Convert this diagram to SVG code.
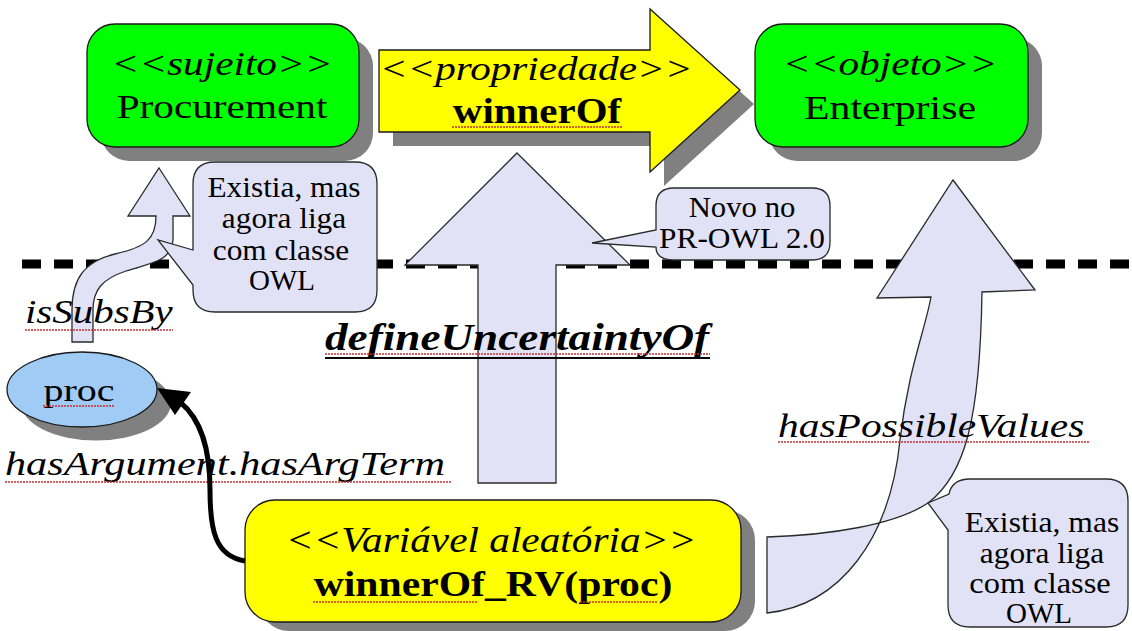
<svg xmlns="http://www.w3.org/2000/svg" width="1132" height="631" viewBox="0 0 1132 631" font-family="Liberation Serif">
<rect width="1132" height="631" fill="#FFFFFF"/>

<line x1="22" y1="264" x2="1132" y2="264" stroke="#000" stroke-width="9" stroke-dasharray="19 13"/>

<g id="connectors" fill="#E2E2F6" stroke="#2a2a2a" stroke-width="1.3">
<path id="arrow-isSubsBy" d="M159,168 L190,216 L173,216 L173,240 C171,262 150,263 126,271 C102,279 93,290 93,310 L93,342 L72,342 L72,310 C72,278 85,261 115,254 C145,247 156,240 156,216 L128,216 Z"/>
<path id="arrow-defineUncertaintyOf" d="M517,153 L630,265 L556,265 L556,483 L478,483 L478,265 L405,265 Z"/>
<path id="arrow-hasPossibleValues" d="M953,180 L1035,290 L982,292 C980,420 965,475 928,503 C895,525 830,535 767,537 L767,613 C840,605 890,540 900,440 C908,370 925,330 931,297 L877,298 Z"/>
</g>

<g id="node-procurement">
<rect fill="#808080" x="101" y="38" width="272" height="123" rx="28"/>
<rect fill="#00FF00" stroke="#1a1a1a" stroke-width="1.3" x="87" y="24" width="272" height="123" rx="28"/>
<text font-family="Liberation Serif" text-anchor="middle" font-size="33" font-style="italic" transform="translate(222,75) scale(1.25,1)">&lt;&lt;sujeito&gt;&gt;</text>
<text font-family="Liberation Serif" text-anchor="middle" font-size="33" transform="translate(222,118) scale(1.25,1)">Procurement</text>
</g>

<g id="node-winnerOf">
<path fill="#808080" d="M393,64 L664,64 L664,23 L754,104 L664,186 L664,146 L393,146 Z"/>
<path fill="#FFFF00" stroke="#1a1a1a" stroke-width="1.3" d="M379,50 L650,50 L650,9 L740,90 L650,172 L650,132 L379,132 Z"/>
<text font-family="Liberation Serif" text-anchor="middle" font-size="34" font-style="italic" transform="translate(536,80) scale(1.21,1)">&lt;&lt;propriedade&gt;&gt;</text>
<text font-family="Liberation Serif" text-anchor="middle" font-size="35" font-weight="bold" transform="translate(537,123) scale(1.17,1)">winnerOf</text>
<line x1="452" y1="127" x2="622" y2="127" stroke="#C83030" stroke-width="1.4" stroke-dasharray="2 1"/>
</g>

<g id="node-enterprise">
<rect fill="#808080" x="769" y="38" width="273" height="123" rx="28"/>
<rect fill="#00FF00" stroke="#1a1a1a" stroke-width="1.3" x="755" y="24" width="273" height="123" rx="28"/>
<text font-family="Liberation Serif" text-anchor="middle" font-size="33" font-style="italic" transform="translate(890,75) scale(1.25,1)">&lt;&lt;objeto&gt;&gt;</text>
<text font-family="Liberation Serif" text-anchor="middle" font-size="33" transform="translate(890,119) scale(1.27,1)">Enterprise</text>
</g>

<g id="callout-existia-1">
<path fill="#E2E2F6" stroke="#2a2a2a" stroke-width="1.3" d="M215,162 H355 Q377,162 377,184 V290 Q377,312 355,312 H215 Q193,312 193,290 V285 L158,240 L193,250 V184 Q193,162 215,162 Z"/>
<text font-family="Liberation Serif" text-anchor="middle" font-size="29" transform="translate(284,197) scale(1.08,1)">Existia, mas</text>
<text font-family="Liberation Serif" text-anchor="middle" font-size="29" transform="translate(284,228) scale(1.08,1)">agora liga</text>
<text font-family="Liberation Serif" text-anchor="middle" font-size="29" transform="translate(281,260) scale(1.08,1)">com classe</text>
<text font-family="Liberation Serif" text-anchor="middle" font-size="29" x="282" y="290">OWL</text>
</g>

<g id="callout-novo">
<path fill="#E2E2F6" stroke="#2a2a2a" stroke-width="1.3" d="M674,188 H812 Q830,188 830,206 V242 Q830,260 812,260 H674 Q656,260 656,247 L592,243 L656,230 V206 Q656,188 674,188 Z"/>
<text font-family="Liberation Serif" text-anchor="middle" font-size="29" transform="translate(742,217) scale(1.06,1)">Novo no</text>
<text font-family="Liberation Serif" text-anchor="middle" font-size="29" transform="translate(742,248) scale(1.08,1)">PR-OWL 2.0</text>
</g>

<g id="callout-existia-2">
<path fill="#E2E2F6" stroke="#2a2a2a" stroke-width="1.3" d="M970,479 H1106 Q1128,479 1128,501 V605 Q1128,627 1106,627 H970 Q948,627 948,605 V530 L928,503 L949,494 Q952,479 970,479 Z"/>
<text font-family="Liberation Serif" text-anchor="middle" font-size="29" transform="translate(1042,532) scale(1.09,1)">Existia, mas</text>
<text font-family="Liberation Serif" text-anchor="middle" font-size="29" transform="translate(1042,563) scale(1.08,1)">agora liga</text>
<text font-family="Liberation Serif" text-anchor="middle" font-size="29" transform="translate(1040,593) scale(1.12,1)">com classe</text>
<text font-family="Liberation Serif" text-anchor="middle" font-size="29" x="1039" y="623">OWL</text>
</g>

<g id="node-proc">
<ellipse fill="#808080" cx="96" cy="403" rx="75" ry="37.5"/>
<ellipse fill="#9FCBF5" stroke="#1a1a1a" stroke-width="1.3" cx="82" cy="389.5" rx="75" ry="37.5"/>
<text font-family="Liberation Serif" text-anchor="middle" font-size="32" transform="translate(79,401) scale(1.25,1)">proc</text>
<line x1="43" y1="406" x2="115" y2="406" stroke="#C83030" stroke-width="1.4" stroke-dasharray="2 1"/>
</g>

<g id="node-rv">
<rect fill="#808080" x="259" y="510" width="496" height="121" rx="30"/>
<rect fill="#FFFF00" stroke="#1a1a1a" stroke-width="1.3" x="245" y="500" width="496" height="122" rx="30"/>
<text font-family="Liberation Serif" text-anchor="middle" font-size="35" font-style="italic" transform="translate(491,552) scale(1.18,1)">&lt;&lt;Vari&#225;vel aleat&#243;ria&gt;&gt;</text>
<text font-family="Liberation Serif" text-anchor="middle" font-size="35" font-weight="bold" transform="translate(493,596) scale(1.19,1)">winnerOf_RV(proc)</text>
<line x1="313" y1="602" x2="478" y2="602" stroke="#C83030" stroke-width="1.4" stroke-dasharray="2 1"/>
<line x1="580" y1="602" x2="657" y2="602" stroke="#C83030" stroke-width="1.4" stroke-dasharray="2 1"/>
</g>

<g id="labels">
<text font-family="Liberation Serif" font-style="italic" font-size="33" transform="translate(25,323) scale(1.24,1)">isSubsBy</text>
<line x1="25" y1="330" x2="173" y2="330" stroke="#C83030" stroke-width="1.4" stroke-dasharray="2 1"/>
<text font-family="Liberation Serif" font-style="italic" font-size="33" transform="translate(5,475) scale(1.28,1)">hasArgument.hasArgTerm</text>
<line x1="5" y1="482" x2="452" y2="482" stroke="#C83030" stroke-width="1.4" stroke-dasharray="2 1"/>
<text font-family="Liberation Serif" font-style="italic" font-size="38" font-weight="bold" transform="translate(325,350) scale(1.19,1)">defineUncertaintyOf</text>
<line x1="325" y1="354" x2="710" y2="354" stroke="#C83030" stroke-width="1.4" stroke-dasharray="2 1"/>
<rect x="325" y="357" width="385" height="2" fill="#000"/>
<text font-family="Liberation Serif" font-style="italic" font-size="34" transform="translate(778,437) scale(1.22,1)">hasPossibleValues</text>
<line x1="778" y1="442" x2="1090" y2="442" stroke="#C83030" stroke-width="1.4" stroke-dasharray="2 1"/>
</g>

<g id="connector-hasArgument">
<path d="M245,561 C215,556 210,530 210,490 C210,450 202,420 180,402" fill="none" stroke="#000" stroke-width="5"/>
<polygon points="157,388 191,392 175,415" fill="#000"/>
</g>
</svg>
